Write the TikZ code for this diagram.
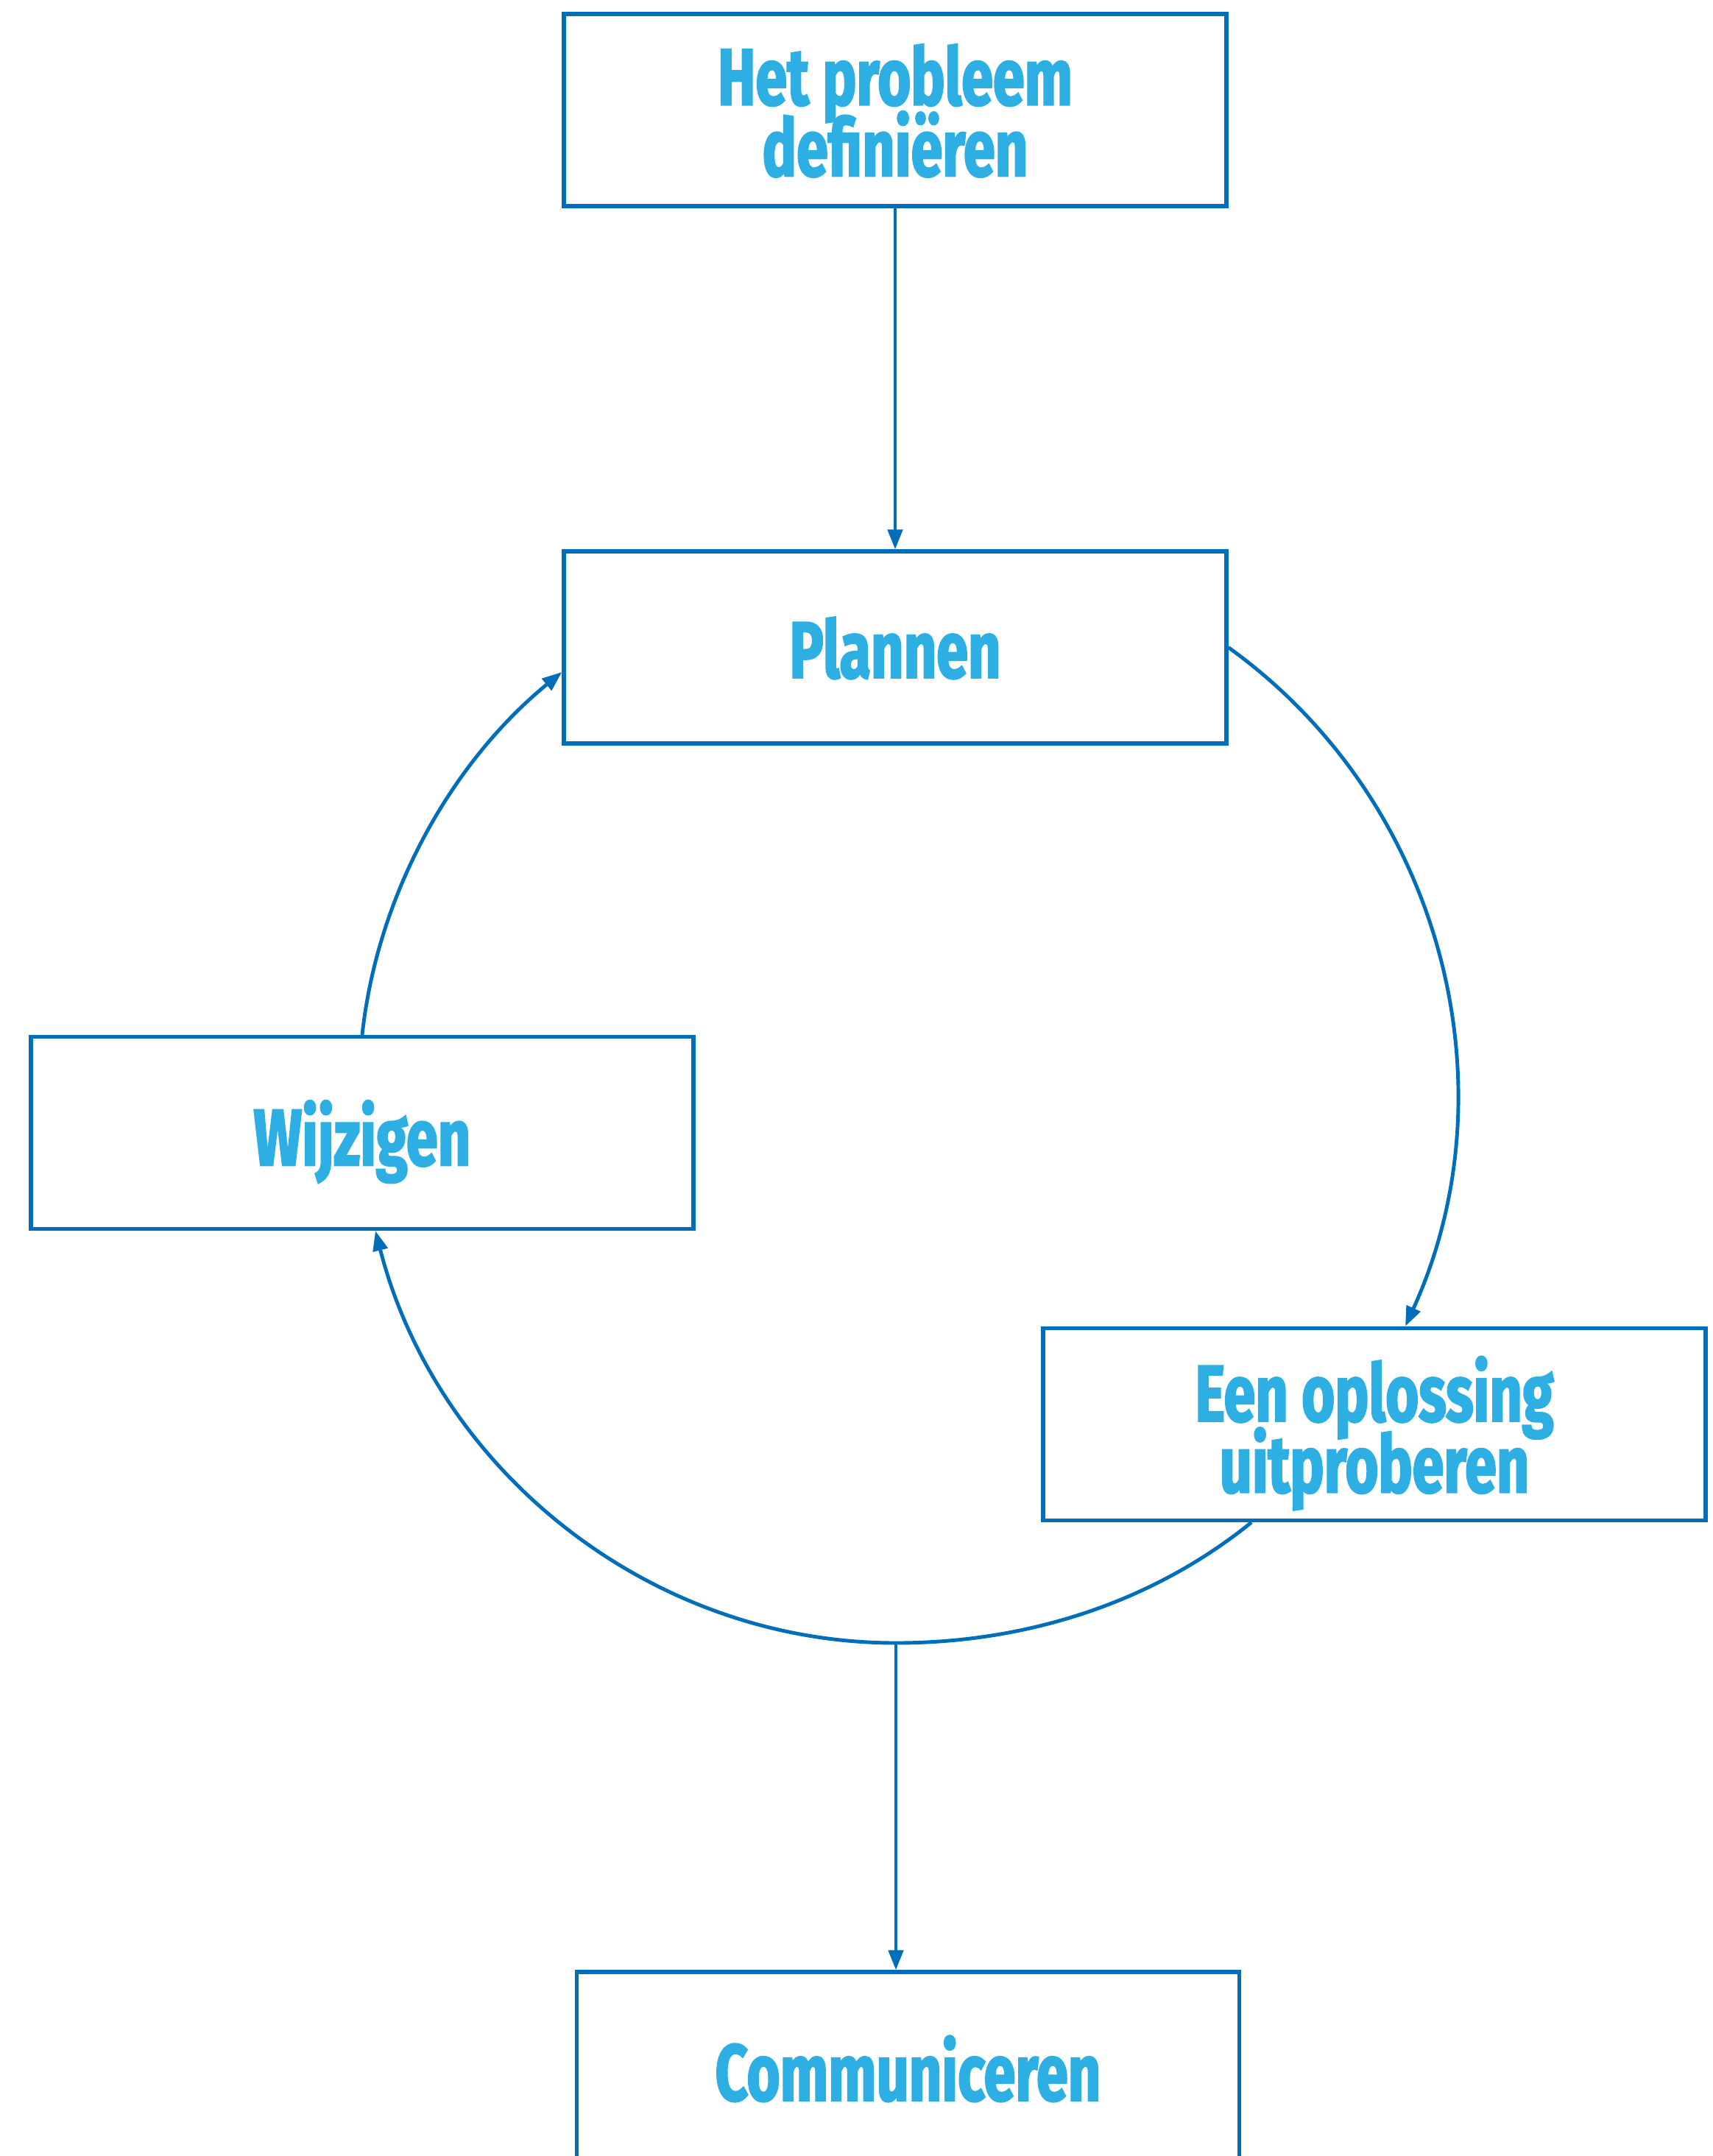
\documentclass[tikz,border=0pt]{standalone}
\usepackage{fontspec}
\newfontfamily\stepfont{Fira Sans}[FakeStretch=0.71, FakeBold=2]
\usetikzlibrary{calc,arrows.meta}
\definecolor{stepblue}{RGB}{0,110,185}
\definecolor{steptext}{RGB}{45,175,228}
\newcommand\bw{9cm}
\newcommand\bh{2.61cm}

\begin{document}
\begin{tikzpicture}[
      stage/.style = {
        draw=stepblue,
        line width=1.5pt,
        minimum width=\bw,
        minimum height=\bh,
        inner sep=0pt,
        align=center,
        text=steptext,
        text depth=0pt,
        font=\stepfont\bfseries\fontsize{31}{27.5}\selectfont,
        execute at begin node={\lineskiplimit=-30pt\lineskip=0pt},
      },
      arr/.style = {
        draw=stepblue,
        line width=1.4pt,
        -{Triangle[length=2.7mm, width=2mm]},
      },
    ]
      \useasboundingbox (0,0) rectangle (23.27,-29.29);
      \node[stage] (def) at (12.16, -1.495) {Het probleem\\definiëren};
      \node[stage] (plan) at (12.16, -8.795) {Plannen};
      \node[stage] (mod) at (4.92, -15.39) {Wijzigen};
      \node[stage] (test) at (18.67, -19.35) {Een oplossing\\uitproberen};
      \node[stage] (comm) at (12.335, -28.095) {Communiceren};
      \coordinate (low) at (12.17, -22.32);
      \draw[arr] (def.south) -- (plan.north);
      \draw[arr] (plan.east) to[out=-35.7, in=65.5, looseness=0.96] ($(test.north)+(0.42,0)$);
      \draw[arr] ($(test.south)+(-1.67,0)$) to[out=219, in=0, looseness=0.88] (low)
        to[out=180, in=-75.6, looseness=0.95] ($(mod.south)+(0.18,0)$);
      \draw[arr] (mod.north) to[out=83.8, in=219.3, looseness=0.88] ($(plan.west)+(0,-0.335)$);
      \draw[arr] (low) -- (low |- comm.north);

    \end{tikzpicture}
\end{document}
